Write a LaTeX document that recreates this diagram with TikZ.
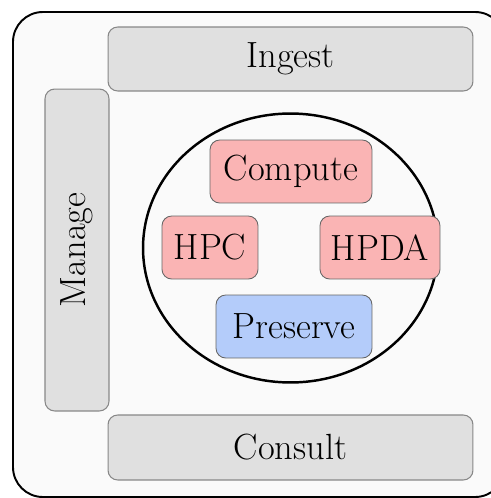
\documentclass[tikz,border=0pt]{standalone}
\usepackage{xcolor}
\definecolor{bggray}{RGB}{250,250,250}
\definecolor{bandfill}{RGB}{224,224,224}
\definecolor{banddraw}{RGB}{135,135,135}
\definecolor{unitred}{RGB}{250,180,180}
\definecolor{unitblue}{RGB}{180,204,250}
\usetikzlibrary{positioning,shapes.geometric}

\tikzset{
  band/.style={draw=banddraw,fill=bandfill,rounded corners=5.5pt,line width=0.6pt,
               font=\huge,inner sep=0pt},
  unitbox/.style={draw=gray!80!black,rounded corners=5.5pt,line width=0.5pt,
                  minimum height=1.26cm,font=\huge,inner sep=0pt},
}

\begin{document}
\begin{tikzpicture}[x=0.02cm,y=-0.02cm]
  \useasboundingbox (0,0) rectangle (491,498);
  % Outer frame
  \draw[line width=1.1pt,fill=bggray,rounded corners=17pt] (13,12) rectangle (505,497);
  % Bands round the core
  \node[band,minimum width=7.3cm,minimum height=1.28cm] (ingest) at (290.5,59) {Ingest};
  \node[band,minimum width=6.44cm,minimum height=1.28cm,rotate=90] (manage) at (77,250) {Manage};
  \node[band,minimum width=7.3cm,minimum height=1.3cm] (consult) at (290.5,447.5) {Consult};
  % Core
  \node[ellipse,draw,line width=1.4pt,minimum width=5.9cm,minimum height=5.38cm,
        inner sep=0pt] (core) at (290.5,248) {};
  \node[unitbox,fill=unitred,minimum width=3.24cm] (compute) at (291,171.5) {Compute};
  \node[unitbox,fill=unitred,minimum width=1.92cm] (hpc) at (210,247.5) {HPC};
  \node[unitbox,fill=unitred,minimum width=2.4cm] (hpda) at (380,247.5) {HPDA};
  \node[unitbox,fill=unitblue,minimum width=3.12cm] (preserve) at (294,326.5) {Preserve};
\end{tikzpicture}
\end{document}
